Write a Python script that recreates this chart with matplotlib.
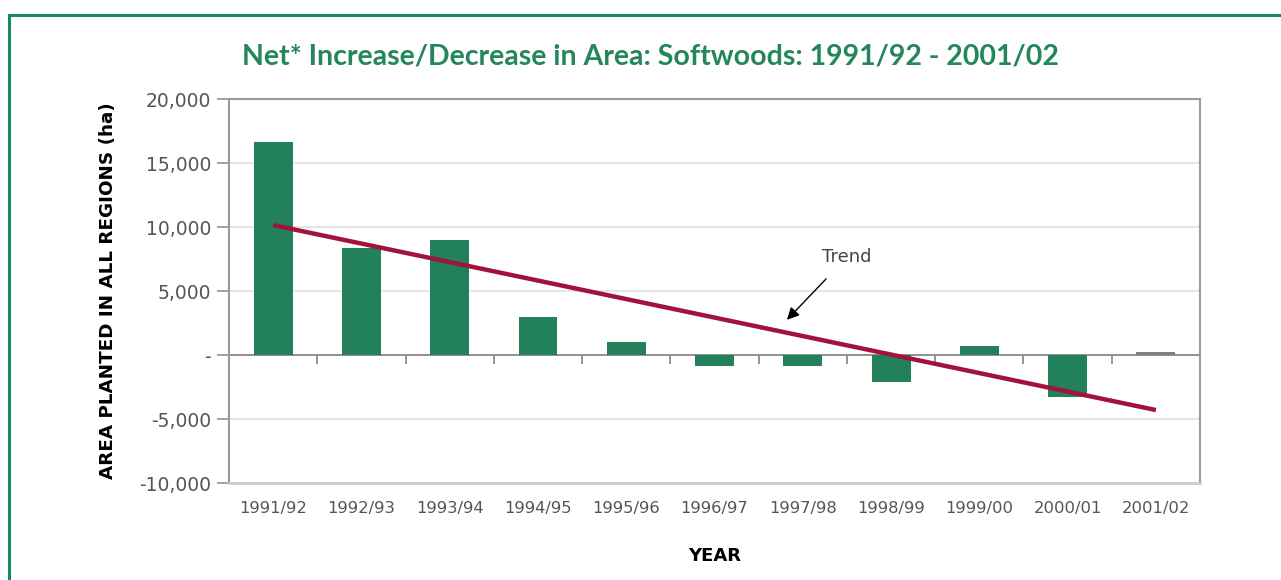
import matplotlib.pyplot as plt
from matplotlib.patches import Rectangle

# net change in softwood area per planting year (ha)
years = ["1991/92", "1992/93", "1993/94", "1994/95", "1995/96", "1996/97",
         "1997/98", "1998/99", "1999/00", "2000/01", "2001/02"]
net_area = [16650, 8360, 9000, 2970, 1050, -850, -850, -2100, 720, -3300, 250]
bar_colours = ["#22805a"] * 10 + ["#808080"]

# straight trend line, first and last year
trend_years = [years[0], years[-1]]
trend_values = [10150, -4300]

y_ticks = [-10000, -5000, 0, 5000, 10000, 15000, 20000]
y_tick_labels = ["-10,000", "-5,000", "-", "5,000", "10,000", "15,000", "20,000"]

green = "#23865c"
grey = "#9a9a9a"

fig = plt.figure(figsize=(12.81, 5.80), dpi=100)
ax = fig.add_axes([0.1788, 0.1672, 0.7580, 0.6621])

# green frame round the whole panel, running off the right and bottom
fig.patches.append(Rectangle((9 / 1281, -0.1), 1.2, 1 - 15 / 580 + 0.1,
                             transform=fig.transFigure, fill=False,
                             edgecolor="#178a5e", linewidth=2.2))

x = range(len(years))
ax.bar(x, net_area, width=0.44, color=bar_colours, zorder=3)
ax.plot([0, len(years) - 1], trend_values, color="#a3123a", linewidth=3.2,
        solid_capstyle="butt", zorder=4)

ax.set_xlim(-0.5, len(years) - 0.5)
ax.set_ylim(-10000, 20000)
ax.set_yticks(y_ticks)
ax.set_yticklabels(y_tick_labels)
ax.set_xticks(list(x))
ax.set_xticklabels(years)
ax.tick_params(axis="x", length=0, pad=13, labelsize=11.8, labelcolor="#555555")
ax.tick_params(axis="y", length=9, width=1.3, color=grey, pad=4,
               labelsize=13.5, labelcolor="#555555")

ax.grid(axis="y", color="#e0e0e0", linewidth=1.2, zorder=0)
ax.axhline(0, color="#8a8a8a", linewidth=1.3, zorder=2)
# category separators hanging below the zero line
ax.vlines([i + 0.5 for i in range(len(years) - 1)], 0, -700,
          color="#8a8a8a", linewidth=1.3, zorder=2)

for side in ["left", "right", "top", "bottom"]:
    ax.spines[side].set_color(grey)
    ax.spines[side].set_linewidth(1.5)
ax.spines["bottom"].set_color("#cccccc")
ax.spines["bottom"].set_linewidth(2)

ax.annotate("Trend", xy=(5.82, 2750), xytext=(6.5, 7650),
            ha="center", va="center", fontsize=13, color="#444444",
            arrowprops=dict(arrowstyle="-|>", color="black", lw=1,
                            mutation_scale=18, shrinkA=10, shrinkB=0))

fig.text(0.508, 0.902, "Net* Increase/Decrease in Area: Softwoods: 1991/92 - 2001/02",
         ha="center", va="center", fontsize=20.5, fontweight="bold",
         color=green, family="Lato")
ax.set_ylabel("AREA PLANTED IN ALL REGIONS (ha)", fontsize=13.2,
              fontweight="bold", labelpad=16)
ax.set_xlabel("YEAR", fontsize=13, fontweight="bold", labelpad=22)

fig.savefig("out.png", dpi=100)
